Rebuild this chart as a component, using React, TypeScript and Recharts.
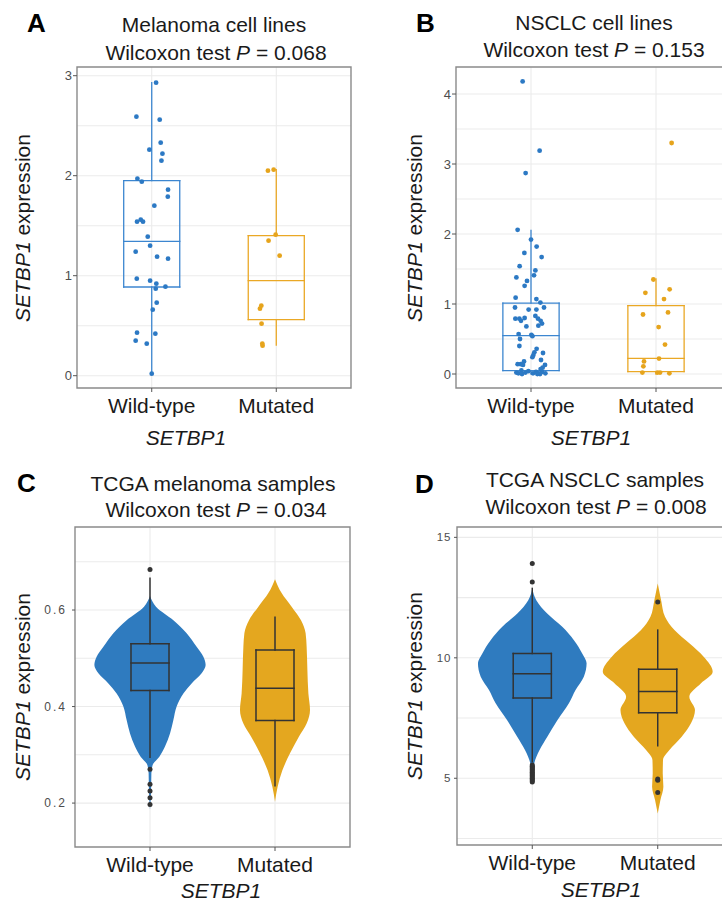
import React from "react";
import {
  ComposedChart,
  XAxis,
  YAxis,
  CartesianGrid,
  Scatter,
  Area,
  ReferenceArea,
  ReferenceLine,
} from "recharts";

const groups = ["Wild-type", "Mutated"];

// A: melanoma cell lines (jitter = horizontal offset of each dot)
const melWtValues = [2.93, 2.59, 2.56, 2.33, 2.26, 2.22, 2.15, 1.97, 1.94, 1.86, 1.79, 1.7, 1.54, 1.56, 1.54, 1.39, 1.3, 1.24, 1.19, 1.17, 0.97, 0.95, 0.92, 0.87, 0.89, 0.73, 0.66, 0.43, 0.42, 0.35, 0.32, 0.02];
const melWtJitter = [0.035, -0.123, 0.064, 0.072, -0.019, 0.086, 0.078, -0.115, -0.08, 0.131, 0.129, 0.021, -0.118, -0.088, -0.07, -0.032, -0.013, -0.129, 0.043, 0.131, -0.12, -0.013, 0.037, 0.032, 0.11, 0.04, 0.008, -0.118, 0.029, -0.129, -0.04, 0];
const melMutValues = [2.05, 2.06, 1.41, 1.35, 1.2, 0.7, 0.67, 0.52, 0.32, 0.3];
const melMutJitter = [-0.067, -0.021, -0.005, -0.062, 0.027, -0.12, -0.131, -0.118, -0.112, -0.11];
// lower whisker, q1, median, q3, upper whisker
const melWtBox = [0.02, 0.887, 1.344, 1.95, 2.93];
const melMutBox = [0.307, 0.56, 0.95, 1.4, 2.06];
const melTicks = [0, 1, 2, 3];
const melGrid = [0, 0.5, 1, 1.5, 2, 2.5, 3];

// B: NSCLC cell lines
const nsclcWtValues = [4.18, 3.19, 2.87, 2.06, 1.92, 1.82, 1.73, 1.67, 1.54, 1.48, 1.41, 1.38, 1.33, 1.26, 1.09, 1.07, 1.02, 0.95, 0.92, 0.92, 0.95, 0.79, 0.79, 0.8, 0.76, 0.83, 0.79, 0.76, 0.69, 0.68, 0.72, 0.57, 0.56, 0.54, 0.5, 0.4, 0.36, 0.31, 0.3, 0.27, 0.24, 0.2, 0.14, 0.14, 0.18, 0.13, 0.13, 0.09, 0.07, 0.05, 0.02, 0.01, 0.02, 0.04, 0.01, 0.03, 0.01, 0.03, 0.01, 0, 0, 0];
const nsclcWtJitter = [-0.067, 0.069, -0.043, -0.107, 0, 0.045, -0.053, 0.085, -0.091, 0.035, 0.024, -0.117, -0.032, -0.051, -0.123, 0.043, 0.075, -0.128, -0.019, 0.043, 0.104, -0.125, -0.093, -0.051, -0.08, 0.035, 0.056, 0.077, 0.059, -0.037, 0.088, -0.099, 0.003, 0.011, -0.088, -0.093, 0.045, 0.027, 0.096, 0.019, 0.011, 0.08, -0.107, -0.083, -0.056, -0.064, 0.112, 0.093, 0.077, -0.077, -0.117, -0.101, -0.045, -0.021, 0.016, 0.04, 0.059, 0.088, 0.115, 0.072, -0.072, 0.051];
const nsclcMutValues = [3.3, 1.35, 1.16, 1.21, 1.07, 0.85, 0.88, 0.67, 0.42, 0.22, 0.18, 0.11, 0.02, 0.02, 0.02, 0.01];
const nsclcMutJitter = [0.125, -0.021, -0.085, 0.109, 0.064, -0.104, 0.096, 0.021, 0.072, 0.024, -0.096, -0.101, -0.109, 0.011, 0.032, 0.107];
const nsclcWtBox = [0, 0.048, 0.548, 1.014, 2.05];
const nsclcMutBox = [0, 0.033, 0.224, 0.976, 1.357];
const nsclcTicks = [0, 1, 2, 3, 4];
const nsclcGrid = [0, 0.5, 1, 1.5, 2, 2.5, 3, 3.5, 4];

// C: TCGA melanoma violins (level, half width)
const tmWtLevels = [0.629, 0.607, 0.579, 0.552, 0.524, 0.503, 0.486, 0.469, 0.448, 0.427, 0.4, 0.372, 0.344, 0.317, 0.296, 0.279, 0.262, 0.22, 0.186];
const tmWtHalf = [0, 0.048, 0.187, 0.293, 0.373, 0.427, 0.445, 0.413, 0.333, 0.267, 0.213, 0.187, 0.16, 0.12, 0.075, 0.021, 0.011, 0.008, 0];
const tmMutLevels = [0.664, 0.635, 0.607, 0.579, 0.552, 0.524, 0.476, 0.427, 0.393, 0.365, 0.338, 0.303, 0.268, 0.234, 0.203];
const tmMutHalf = [0, 0.053, 0.133, 0.208, 0.245, 0.253, 0.259, 0.267, 0.28, 0.253, 0.192, 0.12, 0.059, 0.021, 0];
const tmWtBox = [0.295, 0.433, 0.49, 0.53, 0.666];
const tmMutBox = [0.236, 0.371, 0.438, 0.517, 0.585];
const tmWtOutliers = [0.684, 0.27, 0.239, 0.225, 0.211, 0.197];
const tmMutOutliers: number[] = [];
const tmTicks = [0.2, 0.4, 0.6];
const tmGrid = [0.2, 0.3, 0.4, 0.5, 0.6, 0.7];

// D: TCGA NSCLC violins
const tnWtLevels = [12.88, 12.39, 11.84, 11.29, 10.73, 10.18, 9.77, 9.21, 8.66, 8.11, 7.41, 6.72, 6.17, 5.62, 4.79];
const tnWtHalf = [0, 0.032, 0.119, 0.239, 0.332, 0.398, 0.433, 0.411, 0.345, 0.292, 0.2, 0.12, 0.058, 0.016, 0];
const tnMutLevels = [13.08, 12.39, 11.7, 11.15, 10.6, 10.04, 9.42, 8.94, 8.38, 7.83, 7.28, 6.72, 6.17, 5.75, 5.2, 4.65, 4.09, 3.54];
const tnMutHalf = [0, 0.027, 0.058, 0.133, 0.252, 0.366, 0.438, 0.345, 0.252, 0.297, 0.265, 0.191, 0.093, 0.042, 0.04, 0.045, 0.021, 0];
const tnWtBox = [5.69, 8.33, 9.34, 10.18, 12.88];
const tnMutBox = [6.35, 7.72, 8.6, 9.53, 11.15];
const tnWtOutliers = [13.91, 13.15, 5.55, 5.5, 5.45, 5.4, 5.35, 5.3, 5.25, 5.2, 5.15, 5.1, 5.05, 5.0, 4.95, 4.9, 4.85];
const tnMutOutliers = [12.32, 4.97, 4.92, 4.41];
const tnTicks = [5, 10, 15];
const tnGrid = [2.5, 5, 7.5, 10, 12.5, 15];

const BLUE = "#2c79c4";
const BLUE_LINE = "#3c86d0";
const ORANGE = "#e6a41c";
const ORANGE_LINE = "#eaa825";
const VIO_BLUE = "#2f7bbf";
const VIO_ORANGE = "#e4a71f";
const DARK = "#333333";
const FONT = "'Liberation Sans', Arial, Helvetica, sans-serif";

type Group = {
  center: number;
  box: number[];
  boxHalf: number;
  lineColor: string;
  points?: { x: number; v: number }[];
  pointColor?: string;
  violin?: { v: number; range: [number, number] }[];
  fill?: string;
  outliers?: { x: number; v: number }[];
};

const jitterPoints = (values: number[], jitter: number[], center: number) =>
  values.map((v, i) => ({ x: center + jitter[i], v }));

const violinRows = (levels: number[], half: number[], center: number) =>
  levels.map((v, i) => ({ v, range: [center - half[i], center + half[i]] as [number, number] }));

const outlierRows = (values: number[], center: number) => values.map((v) => ({ x: center, v }));

function Panel({
  left,
  top,
  width,
  height,
  margin,
  yDomain,
  yTicks,
  yGrid,
  yTickStyle,
  yTickSize,
  yTickMargin,
  data,
  lineWidth,
}: {
  left: number;
  top: number;
  width: number;
  height: number;
  margin: { top: number; right: number; bottom: number; left: number };
  yDomain: [number, number];
  yTicks: number[];
  yGrid: number[];
  yTickStyle: any;
  yTickSize: number;
  yTickMargin: number;
  data: Group[];
  lineWidth: number;
}) {
  const boxSeg = (g: Group) => {
    const [lo, q1, med, q3, hi] = g.box;
    const a = g.center - g.boxHalf;
    const b = g.center + g.boxHalf;
    return [
      [{ x: a, y: q1 }, { x: b, y: q1 }],
      [{ x: a, y: q3 }, { x: b, y: q3 }],
      [{ x: a, y: q1 }, { x: a, y: q3 }],
      [{ x: b, y: q1 }, { x: b, y: q3 }],
      [{ x: a, y: med }, { x: b, y: med }],
      [{ x: g.center, y: q3 }, { x: g.center, y: hi }],
      [{ x: g.center, y: q1 }, { x: g.center, y: lo }],
    ];
  };

  // axes get 1px of size so that recharts draws them; margins take it back
  const m = { ...margin, left: margin.left - 1, bottom: margin.bottom - 1 };

  return (
    <div style={{ position: "absolute", left, top }}>
      <ComposedChart
        layout="vertical"
        width={width}
        height={height}
        margin={m}
        style={{ fontFamily: FONT }}
      >
        <CartesianGrid
          horizontalValues={yGrid}
          verticalValues={[1, 2]}
          stroke="#ebebeb"
          strokeWidth={1.1}
        />
        <XAxis
          type="number"
          dataKey="x"
          domain={[0.4, 2.6]}
          allowDataOverflow
          ticks={[1, 2]}
          interval={0}
          tickFormatter={(t: number) => (t === 1 ? groups[0] : groups[1])}
          height={1}
          axisLine={false}
          tickLine={{ stroke: "#555" }}
          tickSize={4}
          tickMargin={6}
          tick={{ fontSize: 21, fill: "#1a1a1a" }}
        />
        <YAxis
          type="number"
          dataKey="v"
          domain={yDomain}
          reversed
          allowDataOverflow
          ticks={yTicks}
          interval={0}
          width={1}
          axisLine={false}
          tickLine={{ stroke: "#555" }}
          tickSize={yTickSize}
          tickMargin={yTickMargin}
          tick={yTickStyle}
        />
        {data.map((g, i) =>
          g.violin ? (
            <Area
              key={"v" + i}
              data={g.violin}
              dataKey="range"
              type="monotone"
              stroke="none"
              fill={g.fill}
              fillOpacity={1}
              dot={false}
              activeDot={false}
              isAnimationActive={false}
            />
          ) : null
        )}
        <ReferenceArea
          x1={0.4}
          x2={2.6}
          y1={yDomain[0]}
          y2={yDomain[1]}
          fill="none"
          stroke="#8a8a8a"
          strokeWidth={1.4}
          ifOverflow="visible"
        />
        {data.map((g, i) =>
          boxSeg(g).map((s, j) => (
            <ReferenceLine
              key={"b" + i + "-" + j}
              segment={s}
              stroke={g.lineColor}
              strokeWidth={lineWidth}
              strokeLinecap="square"
              ifOverflow="visible"
            />
          ))
        )}
        {data.map((g, i) =>
          g.points ? (
            <Scatter
              key={"p" + i}
              data={g.points}
              isAnimationActive={false}
              shape={(p: any) => <circle cx={p.cx} cy={p.cy} r={2.4} fill={g.pointColor} />}
            />
          ) : null
        )}
        {data.map((g, i) =>
          g.outliers && g.outliers.length ? (
            <Scatter
              key={"o" + i}
              data={g.outliers}
              isAnimationActive={false}
              shape={(p: any) => <circle cx={p.cx} cy={p.cy} r={2.5} fill={DARK} />}
            />
          ) : null
        )}
      </ComposedChart>
    </div>
  );
}

const titleStyle = { fontSize: 21, fill: "#1a1a1a", fontFamily: FONT };

function Texts() {
  const title = (x: number, y: number, t: string) => (
    <text x={x} y={y} textAnchor="middle" style={titleStyle}>
      {t}
    </text>
  );
  const ptitle = (x: number, y: number, p: string) => (
    <text x={x} y={y} textAnchor="middle" style={titleStyle}>
      Wilcoxon test <tspan fontStyle="italic">P</tspan> = {p}
    </text>
  );
  const ylab = (x: number, y: number) => (
    <text transform={`translate(${x},${y}) rotate(-90)`} textAnchor="middle" style={titleStyle}>
      <tspan fontStyle="italic">SETBP1</tspan> expression
    </text>
  );
  const xlab = (x: number, y: number) => (
    <text x={x} y={y} textAnchor="middle" fontStyle="italic" style={titleStyle}>
      SETBP1
    </text>
  );
  const letter = (x: number, y: number, t: string) => (
    <text x={x} y={y} fontWeight="bold" style={{ fontSize: 26, fill: "#000", fontFamily: FONT }}>
      {t}
    </text>
  );
  return (
    <svg
      width={722}
      height={903}
      style={{ position: "absolute", left: 0, top: 0, pointerEvents: "none" }}
    >
      {letter(27, 32, "A")}
      {letter(416, 32, "B")}
      {letter(17, 492, "C")}
      {letter(415, 493, "D")}
      {title(214, 32, "Melanoma cell lines")}
      {ptitle(216, 60, "0.068")}
      {title(594, 30, "NSCLC cell lines")}
      {ptitle(594, 57, "0.153")}
      {title(213, 491, "TCGA melanoma samples")}
      {ptitle(216, 517, "0.034")}
      {title(595, 487, "TCGA NSCLC samples")}
      {ptitle(596, 514, "0.008")}
      {ylab(30, 228)}
      {ylab(422, 228)}
      {ylab(30, 687)}
      {ylab(422, 686)}
      {xlab(186, 445)}
      {xlab(591, 445)}
      {xlab(221, 898)}
      {xlab(601, 897)}
    </svg>
  );
}

export default function App() {
  const panelA: Group[] = [
    { center: 1, box: melWtBox, boxHalf: 0.225, lineColor: BLUE_LINE, points: jitterPoints(melWtValues, melWtJitter, 1), pointColor: BLUE },
    { center: 2, box: melMutBox, boxHalf: 0.225, lineColor: ORANGE_LINE, points: jitterPoints(melMutValues, melMutJitter, 2), pointColor: ORANGE },
  ];
  const panelB: Group[] = [
    { center: 1, box: nsclcWtBox, boxHalf: 0.225, lineColor: BLUE_LINE, points: jitterPoints(nsclcWtValues, nsclcWtJitter, 1), pointColor: BLUE },
    { center: 2, box: nsclcMutBox, boxHalf: 0.225, lineColor: ORANGE_LINE, points: jitterPoints(nsclcMutValues, nsclcMutJitter, 2), pointColor: ORANGE },
  ];
  const panelC: Group[] = [
    { center: 1, box: tmWtBox, boxHalf: 0.152, lineColor: DARK, violin: violinRows(tmWtLevels, tmWtHalf, 1), fill: VIO_BLUE, outliers: outlierRows(tmWtOutliers, 1) },
    { center: 2, box: tmMutBox, boxHalf: 0.152, lineColor: DARK, violin: violinRows(tmMutLevels, tmMutHalf, 2), fill: VIO_ORANGE, outliers: outlierRows(tmMutOutliers, 2) },
  ];
  const panelD: Group[] = [
    { center: 1, box: tnWtBox, boxHalf: 0.152, lineColor: DARK, violin: violinRows(tnWtLevels, tnWtHalf, 1), fill: VIO_BLUE, outliers: outlierRows(tnWtOutliers, 1) },
    { center: 2, box: tnMutBox, boxHalf: 0.152, lineColor: DARK, violin: violinRows(tnMutLevels, tnMutHalf, 2), fill: VIO_ORANGE, outliers: outlierRows(tnMutOutliers, 2) },
  ];

  const smallTick = { fontSize: 13, fill: "#4d4d4d" };

  return (
    <div
      style={{
        position: "absolute",
        left: 0,
        top: 0,
        width: 722,
        height: 903,
        overflow: "hidden",
        background: "#fff",
        fontFamily: FONT,
      }}
    >
      <Panel
        left={0}
        top={0}
        width={361}
        height={460}
        margin={{ top: 67, right: 10, bottom: 72, left: 77 }}
        yDomain={[-0.123, 3.087]}
        yTicks={melTicks}
        yGrid={melGrid}
        yTickStyle={smallTick}
        yTickSize={4}
        yTickMargin={1}
        data={panelA}
        lineWidth={1.3}
      />
      <Panel
        left={361}
        top={0}
        width={380}
        height={460}
        margin={{ top: 67, right: 10, bottom: 72, left: 95 }}
        yDomain={[-0.2, 4.386]}
        yTicks={nsclcTicks}
        yGrid={nsclcGrid}
        yTickStyle={smallTick}
        yTickSize={4}
        yTickMargin={1}
        data={panelB}
        lineWidth={1.3}
      />
      <Panel
        left={0}
        top={460}
        width={361}
        height={443}
        margin={{ top: 67, right: 11, bottom: 56, left: 75 }}
        yDomain={[0.109, 0.772]}
        yTicks={tmTicks}
        yGrid={tmGrid}
        yTickStyle={{ fontSize: 12, fill: "#4d4d4d", letterSpacing: 2 }}
        yTickSize={3}
        yTickMargin={5}
        data={panelC}
        lineWidth={1.5}
      />
      <Panel
        left={361}
        top={460}
        width={384}
        height={443}
        margin={{ top: 67, right: 12, bottom: 58, left: 96 }}
        yDomain={[2.23, 15.43]}
        yTicks={tnTicks}
        yGrid={tnGrid}
        yTickStyle={{ fontSize: 11.5, fill: "#4d4d4d", letterSpacing: 1 }}
        yTickSize={3}
        yTickMargin={2.5}
        data={panelD}
        lineWidth={1.5}
      />
      <Texts />
    </div>
  );
}
